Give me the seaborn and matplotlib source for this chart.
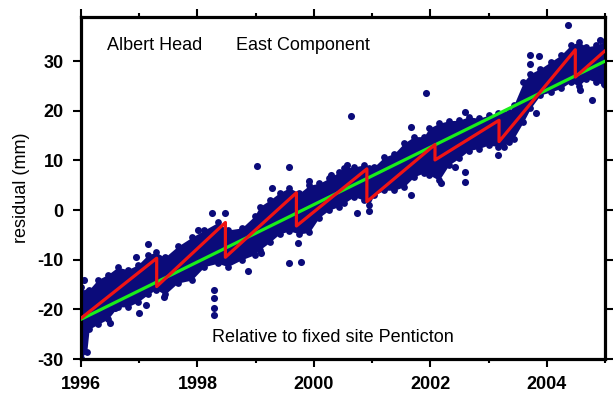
import matplotlib
matplotlib.use("Agg")
import matplotlib.pyplot as plt
import seaborn as sns
import pandas as pd
import numpy as np

# ---- data ----
# dense core of the daily residual cloud: time, lower edge, upper edge (mm)
core_t = [1996.00, 1996.10, 1996.14, 1996.29, 1996.46, 1996.63, 1996.80, 1996.98,
          1997.15, 1997.29, 1997.44, 1997.66, 1997.90, 1998.12, 1998.35, 1998.52,
          1998.76, 1998.98, 1999.07, 1999.24, 1999.41, 1999.58, 1999.75, 1999.92,
          2000.09, 2000.26, 2000.43, 2000.52, 2000.69, 2000.86, 2000.95, 2001.03,
          2001.21, 2001.38, 2001.55, 2001.72, 2001.89, 2001.98, 2002.15, 2002.32,
          2002.49, 2002.66, 2002.83, 2003.00, 2003.17, 2003.26, 2003.35, 2003.43,
          2003.60, 2003.72, 2003.89, 2004.07, 2004.24, 2004.41, 2004.55, 2004.68,
          2004.84, 2005.00]
core_low = [-29.8, -28.5, -24.0, -23.0, -22.0, -19.5, -19.5, -18.5,
            -17.0, -16.0, -17.0, -14.7, -14.1, -11.4, -10.7, -11.4,
            -10.0, -9.0, -8.0, -6.5, -4.8, -4.2, -4.8, -4.5,
            -1.5, 0.0, 0.7, 1.4, 2.7, 2.0, 1.0, 3.0,
            4.0, 4.0, 4.7, 6.7, 7.5, 7.1, 6.0, 9.1,
            10.4, 12.0, 12.4, 13.1, 12.8, 12.8, 13.8, 14.4,
            17.8, 20.5, 23.2, 23.8, 24.5, 25.8, 25.0, 26.5,
            25.8, 25.2]
core_high = [-15.5, -16.5, -16.0, -14.0, -13.0, -11.5, -12.0, -11.0,
             -9.0, -8.5, -9.5, -7.3, -5.5, -4.0, -2.5, -4.0,
             -3.6, -1.2, 0.7, 2.0, 3.5, 4.5, 3.4, 5.0,
             5.4, 6.4, 7.7, 8.5, 8.7, 9.1, 8.5, 8.7,
             10.7, 11.4, 13.5, 14.8, 14.8, 16.5, 17.5, 18.0,
             18.1, 18.8, 18.5, 19.1, 19.5, 19.3, 19.8, 21.1,
             25.8, 27.5, 28.5, 29.9, 31.2, 33.2, 33.9, 32.9,
             33.2, 34.0]

# isolated residual points outside the dense core
out_t = [1996.05, 1996.50, 1996.59, 1996.99, 1996.95, 1997.15, 1997.12, 1997.43,
         1998.01, 1998.25, 1998.48, 1998.28, 1998.28, 1998.28, 1998.28, 1998.87,
         1999.03, 1999.57, 1999.28, 1999.09, 1999.57, 1999.78, 1999.72, 1999.92,
         2000.29, 2000.64, 2000.57, 2000.74, 2000.95, 2001.66, 2001.92, 2001.66,
         2002.08, 2002.60, 2002.40, 2002.59, 2002.59, 2002.18, 2002.43, 2003.16,
         2003.72, 2003.86, 2003.72, 2003.81, 2004.37, 2004.77, 2004.92, 2004.57,
         2004.98]
out_y = [-14.1, -22.8, -19.8, -20.8, -9.4, -6.8, -19.1, -17.5,
         -4.1, -0.5, -0.5, -16.1, -17.7, -19.7, -21.2, -12.2,
         8.9, 8.7, 4.4, -8.6, -10.7, -10.4, -6.7, 5.9,
         7.1, 18.9, 9.1, -0.5, -0.1, 3.0, 23.5, 16.8,
         16.1, 19.8, 17.4, 7.7, 5.7, 5.4, 8.7, 11.0,
         31.2, 31.1, 29.4, 19.6, 37.2, 22.2, 34.2, 24.2,
         25.5]

# linear trend (green)
trend_t = [1996.0, 2005.0]
trend_y = [-22.0, 30.0]

# sawtooth model with slip events (red)
saw_t = [1996.00, 1997.30, 1997.30, 1998.48, 1998.48, 1999.70, 1999.70, 2000.91,
         2000.91, 2002.08, 2002.08, 2003.18, 2003.18, 2004.49, 2004.49, 2005.00]
saw_y = [-21.8, -9.7, -15.4, -2.5, -9.5, 3.5, -3.2, 8.3,
         1.7, 13.2, 10.1, 18.1, 13.8, 32.3, 26.8, 32.1]

x_ticks = [1996, 1998, 2000, 2002, 2004]
y_ticks = [-30, -20, -10, 0, 10, 20, 30]

# ---- styling ----
sns.set_theme(style="ticks")
plt.rcParams['font.family'] = ['Liberation Sans', 'DejaVu Sans']
plt.rcParams['text.color'] = 'black'
plt.rcParams['axes.labelcolor'] = 'black'

W, H = 613, 396
fig = plt.figure(figsize=(W / 100, H / 100), dpi=100)
L, R, T, B = 81, 605, 17, 359
ax = fig.add_axes([L / W, 1 - B / H, (R - L) / W, (B - T) / H])

navy = '#0b0b7a'
core = pd.DataFrame({'t': core_t, 'low': core_low, 'high': core_high})
ax.fill_between(core['t'], core['low'], core['high'], color=navy, lw=0, zorder=1)

edges = pd.DataFrame({'t': core_t + core_t, 'y': core_low + core_high})
sns.scatterplot(data=edges, x='t', y='y', ax=ax, color=navy, s=24,
                linewidth=0, zorder=2, legend=False)
outl = pd.DataFrame({'t': out_t, 'y': out_y})
sns.scatterplot(data=outl, x='t', y='y', ax=ax, color=navy, s=26,
                linewidth=0, zorder=2, legend=False)

sns.lineplot(x=trend_t, y=trend_y, ax=ax, color='#1aee1a', lw=2.3,
             sort=False, estimator=None, zorder=3)
sns.lineplot(x=saw_t, y=saw_y, ax=ax, color='#f01414', lw=2.3,
             sort=False, estimator=None, zorder=4)

ax.set_xlim(1996, 2005)
ax.set_ylim(-30, 38.9)
ax.set_xticks(x_ticks)
ax.set_xticklabels([str(v) for v in x_ticks])
ax.set_xticks([1997, 1999, 2001, 2003, 2005], minor=True)
ax.set_yticks(y_ticks)
ax.set_yticklabels([str(v) for v in y_ticks])

for s in ax.spines.values():
    s.set_visible(True)
    s.set_linewidth(2.3)
    s.set_color('black')

ax.tick_params(which='both', direction='out', top=True, right=True,
               labeltop=False, labelright=False, colors='black', width=1.5)
ax.tick_params(which='major', length=6, pad=6.5, labelsize=13)
ax.tick_params(which='minor', length=3)
for lab in ax.get_xticklabels() + ax.get_yticklabels():
    lab.set_fontweight('bold')

ax.set_xlabel('')
ax.set_ylabel('residual (mm)', fontsize=13, color='black')
ax.yaxis.set_label_coords((30 - L) / (R - L), 0.5)

ax.text((107 - L) / (R - L), (B - 46) / (B - T), 'Albert Head', transform=ax.transAxes,
        fontsize=13, va='center', ha='left', color='black')
ax.text((236 - L) / (R - L), (B - 46) / (B - T), 'East Component', transform=ax.transAxes,
        fontsize=13, va='center', ha='left', color='black')
ax.text((212 - L) / (R - L), (B - 337) / (B - T), 'Relative to fixed site Penticton',
        transform=ax.transAxes, fontsize=13, va='center', ha='left', color='black')

fig.savefig('out.png', dpi=100)
